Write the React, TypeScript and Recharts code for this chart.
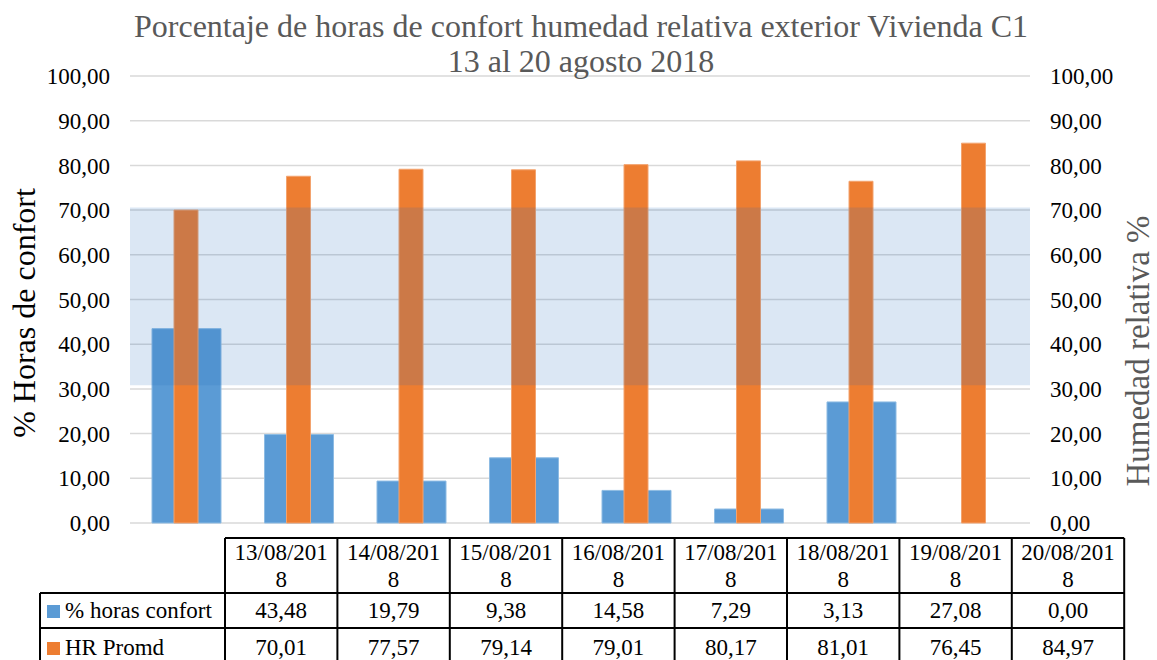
import { Bar, BarChart, CartesianGrid, ReferenceArea, XAxis, YAxis } from 'recharts';

const fechas = [
  '13/08/2018',
  '14/08/2018',
  '15/08/2018',
  '16/08/2018',
  '17/08/2018',
  '18/08/2018',
  '19/08/2018',
  '20/08/2018',
];
const horasConfort = [43.48, 19.79, 9.38, 14.58, 7.29, 3.13, 27.08, 0.0];
const hrPromd = [70.01, 77.57, 79.14, 79.01, 80.17, 81.01, 76.45, 84.97];
const ticksY = [0, 10, 20, 30, 40, 50, 60, 70, 80, 90, 100];
// franja de confort (30 - 70 % HR), como está dibujada en la imagen
const zonaConfort = [30.8, 70.6];

const series = [
  { key: 'confort', nombre: '% horas confort', color: '#5B9BD5', valores: horasConfort },
  { key: 'hr', nombre: 'HR Promd', color: '#ED7D31', valores: hrPromd },
];

const data = fechas.map((f, i) => ({
  fecha: f,
  confort: horasConfort[i],
  hr: hrPromd[i],
}));

const fmt = (v: number) => v.toFixed(2).replace('.', ',');
const FONT = '"Liberation Serif", "Times New Roman", serif';

const W = 1157;
const H = 660;

// tabla de datos
const tablaX = 225;
const colW = 112.4;
const filaY = [538, 593, 628, 672];
const labelX = 40;

function Tabla() {
  const right = tablaX + colW * fechas.length;
  return (
    <g style={{ fontFamily: FONT, fontSize: 23 }} fill="#000">
      {/* bordes horizontales */}
      <line x1={tablaX} x2={right} y1={filaY[0]} y2={filaY[0]} stroke="#000" strokeWidth={2} />
      {filaY.slice(1).map((y) => (
        <line key={y} x1={labelX} x2={right} y1={y} y2={y} stroke="#000" strokeWidth={2} />
      ))}
      {/* bordes verticales */}
      <line x1={labelX} x2={labelX} y1={filaY[1]} y2={filaY[3]} stroke="#000" strokeWidth={2} />
      {fechas.map((_, i) => (
        <line
          key={i}
          x1={tablaX + colW * i}
          x2={tablaX + colW * i}
          y1={filaY[0]}
          y2={filaY[3]}
          stroke="#000"
          strokeWidth={2}
        />
      ))}
      <line x1={right} x2={right} y1={filaY[0]} y2={filaY[3]} stroke="#000" strokeWidth={2} />
      {fechas.map((f, i) => {
        const cx = tablaX + colW * (i + 0.5);
        return (
          <g key={f}>
            <text x={cx} y={560} textAnchor="middle">{f.slice(0, 9)}</text>
            <text x={cx} y={587} textAnchor="middle">{f.slice(9)}</text>
          </g>
        );
      })}
      {series.map((s, r) => {
        const base = r === 0 ? 618 : 655;
        return (
          <g key={s.key}>
            <rect x={47} y={base - 13} width={13} height={13} fill={s.color} />
            <text x={65} y={base}>{s.nombre}</text>
            {s.valores.map((v, i) => (
              <text key={i} x={tablaX + colW * (i + 0.5)} y={base} textAnchor="middle">
                {fmt(v)}
              </text>
            ))}
          </g>
        );
      })}
    </g>
  );
}

export default function App() {
  const tick = { fill: '#000', fontSize: 23, fontFamily: FONT };
  return (
    <div
      style={{
        position: 'absolute',
        left: 0,
        top: 0,
        width: W,
        height: H,
        background: '#fff',
        fontFamily: FONT,
      }}
    >
      <BarChart
        width={W}
        height={540}
        data={data}
        margin={{ top: 76, right: 0, bottom: 17, left: 0 }}
        style={{ fontFamily: FONT }}
      >
        <CartesianGrid
          xAxisId="conf"
          yAxisId="izq"
          vertical={false}
          stroke="#D9D9D9"
          strokeWidth={1.5}
        />
        <XAxis xAxisId="conf" dataKey="fecha" hide />
        <XAxis xAxisId="hr" dataKey="fecha" hide />
        <YAxis
          yAxisId="izq"
          orientation="left"
          width={130}
          domain={[0, 100]}
          ticks={ticksY}
          tickFormatter={fmt}
          axisLine={false}
          tickLine={false}
          tickSize={10}
          tickMargin={10}
          tick={tick}
        />
        <YAxis
          yAxisId="der"
          orientation="right"
          width={127}
          domain={[0, 100]}
          ticks={ticksY}
          tickFormatter={fmt}
          axisLine={false}
          tickLine={false}
          tickSize={10}
          tickMargin={10}
          tick={tick}
        />
        <Bar
          xAxisId="conf"
          yAxisId="izq"
          dataKey="confort"
          name="% horas confort"
          fill="#5B9BD5"
          stroke="#8DBBE3"
          strokeWidth={1}
          barSize={69}
          isAnimationActive={false}
        />
        <Bar
          xAxisId="hr"
          yAxisId="der"
          dataKey="hr"
          name="HR Promd"
          fill="#ED7D31"
          stroke="#F3A36E"
          strokeWidth={1}
          barSize={24}
          isAnimationActive={false}
        />
        <ReferenceArea
          xAxisId="conf"
          yAxisId="izq"
          y1={zonaConfort[0]}
          y2={zonaConfort[1]}
          fill="#1F6BBA"
          fillOpacity={0.16}
          stroke="none"
          zIndex={1000}
        />
      </BarChart>
      <svg
        width={W}
        height={H}
        style={{ position: 'absolute', left: 0, top: 0, pointerEvents: 'none', fontFamily: FONT }}
      >
        <g fill="#595959" style={{ fontSize: 32 }} textAnchor="middle">
          <text x={581} y={37}>Porcentaje de horas de confort humedad relativa exterior Vivienda C1</text>
          <text x={581} y={72}>13 al 20 agosto 2018</text>
        </g>
        <text
          transform="translate(35,313) rotate(-90)"
          textAnchor="middle"
          style={{ fontSize: 32 }}
          fill="#000"
        >
          % Horas de confort
        </text>
        <text
          transform="translate(1149,351) rotate(-90)"
          textAnchor="middle"
          style={{ fontSize: 33 }}
          fill="#595959"
        >
          Humedad relativa %
        </text>
        <Tabla />
      </svg>
    </div>
  );
}
